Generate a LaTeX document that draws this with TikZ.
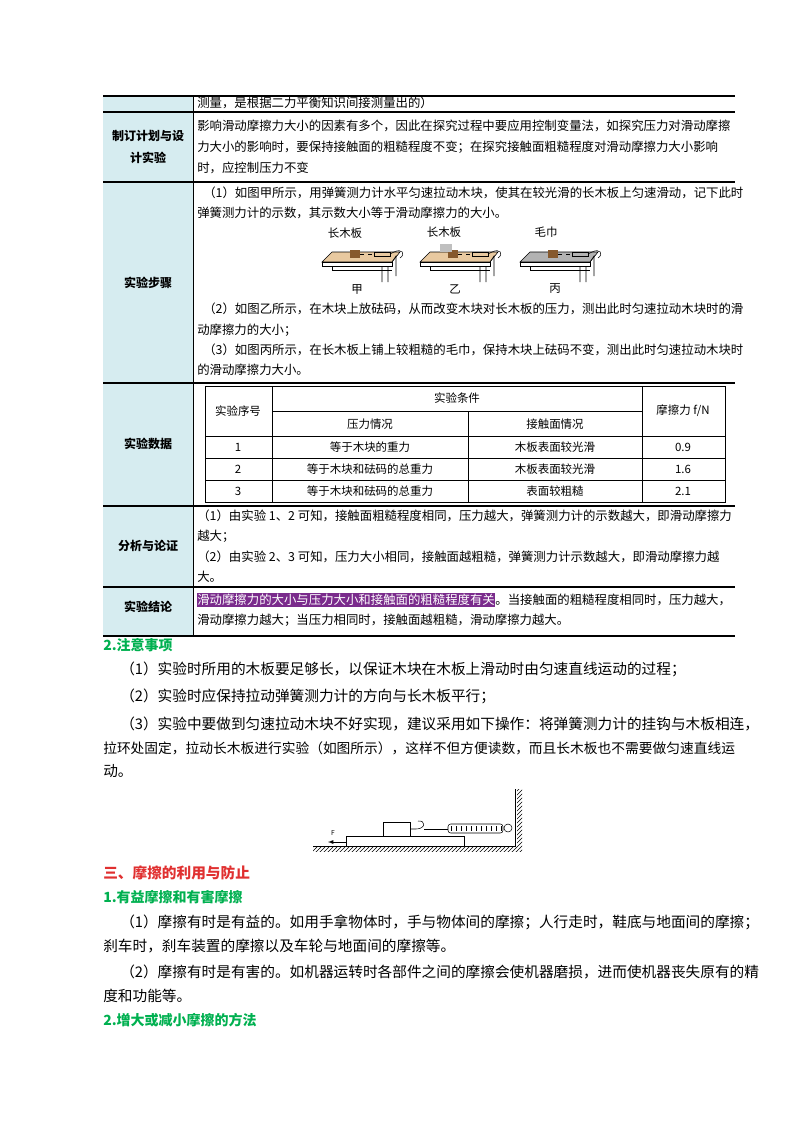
\documentclass[tikz,border=0pt]{standalone}
\usepackage{fontspec}
\setmainfont{Noto Sans CJK SC}
\usetikzlibrary{patterns}
\definecolor{leftfill}{HTML}{D6ECF0}
\definecolor{secgreen}{HTML}{00B050}
\definecolor{secred}{HTML}{E03030}
\definecolor{hlpurple}{HTML}{7A2B8C}
\definecolor{woodc}{HTML}{E8C9A0}
\tikzset{
  cell/.style={anchor=west,inner sep=0,font=\fontsize{9.3}{11}\selectfont},
  lab/.style={inner sep=0,font=\fontsize{9}{11}\selectfont\bfseries},
  tc/.style={inner sep=0,font=\fontsize{8.6}{10}\selectfont},
  body/.style={anchor=west,inner sep=0,font=\fontsize{11}{13}\selectfont},
  head/.style={anchor=west,inner sep=0,font=\fontsize{10.5}{13}\selectfont\bfseries},
  rule/.style={line width=0.8pt},
  thin/.style={line width=0.4pt},
}
\newcommand{\benchsketch}[3]{%
  \begin{scope}[shift={(#1,0)}]
    \fill[#2] (0,262) -- (10,252) -- (78,252) -- (70,262) -- cycle;
    \draw[thin] (0,262) -- (10,252) -- (78,252) -- (70,262) -- cycle;
    \draw[thin] (0,262) rectangle (70,266);
    \draw[thin] (60,266) -- (60,282) (66,266) -- (66,282) (70,262) -- (74,256) -- (74,276);
    \draw[thin] (10,266) -- (10,270) -- (70,270);
    \fill[brown!70!black] (28,250) rectangle (38,258);
    \draw[thin,dashed] (38,254) -- (52,254);
    \draw[thin] (52,252) rectangle (68,256);
    \draw[thin] (68,254) -- (72,252) .. controls (80,248) and (84,254) .. (78,258);
    \node[tc] at (35,289) {#3};
  \end{scope}}
\begin{document}
\begin{tikzpicture}[x=0.75pt,y=-0.75pt]
  \useasboundingbox (0,0) rectangle (800,1132);
  % left column
  \fill[leftfill] (103,96) rectangle (193,636);
  % row lines
  \foreach \y in {96,112,182,383,506,587,636}
    \draw[rule] (103,\y) -- (735,\y);
  \draw[thin] (193,96) -- (193,636);
  % row labels
  \node[lab] (plan1) at (148,136) {制订计划与设};
  \node[lab] (plan2) at (148,158) {计实验};
  \node[lab] (steps) at (148,283) {实验步骤};
  \node[lab] (data) at (148,444) {实验数据};
  \node[lab] (anal) at (148,546) {分析与论证};
  \node[lab] (concl) at (148,607) {实验结论};
  % row texts
  \node[cell] (r0) at (197,103) {测量，是根据二力平衡知识间接测量出的）};
  \node[cell] (r1a) at (197,126) {影响滑动摩擦力大小的因素有多个，因此在探究过程中要应用控制变量法，如探究压力对滑动摩擦};
  \node[cell] (r1b) at (197,147) {力大小的影响时，要保持接触面的粗糙程度不变；在探究接触面粗糙程度对滑动摩擦力大小影响};
  \node[cell] (r1c) at (197,168) {时，应控制压力不变};
  \node[cell] (s1) at (203,193) {（1）如图甲所示，用弹簧测力计水平匀速拉动木块，使其在较光滑的长木板上匀速滑动，记下此时};
  \node[cell] (s1b) at (197,213) {弹簧测力计的示数，其示数大小等于滑动摩擦力的大小。};
  \benchsketch{322}{woodc}{甲}
  \benchsketch{420}{woodc}{乙}
  \benchsketch{520}{gray!60}{丙}
  \node[tc] (lb1) at (345,233) {长木板};
  \node[tc] (lb2) at (444,232) {长木板};
  \node[tc] (lb3) at (546,232) {毛巾};
  \fill[gray!50] (440,244) rectangle (452,252);
  \node[cell] (s2) at (203,309) {（2）如图乙所示，在木块上放砝码，从而改变木块对长木板的压力，测出此时匀速拉动木块时的滑};
  \node[cell] (s2b) at (197,330) {动摩擦力的大小；};
  \node[cell] (s3) at (203,350) {（3）如图丙所示，在长木板上铺上较粗糙的毛巾，保持木块上砝码不变，测出此时匀速拉动木块时};
  \node[cell] (s3b) at (197,370) {的滑动摩擦力大小。};
  % data table
  \draw[thin] (205,386) rectangle (725,502);
  \foreach \y in {436,458,480} \draw[thin] (205,\y) -- (725,\y);
  \draw[thin] (272,411) -- (642,411);
  \foreach \x in {272,642} \draw[thin] (\x,386) -- (\x,502);
  \draw[thin] (468,411) -- (468,502);
  \node[tc] (h1) at (238,411) {实验序号};
  \node[tc] (h2) at (457,398) {实验条件};
  \node[tc] (h3) at (683,411) {摩擦力 f/N};
  \node[tc] (h4) at (370,424) {压力情况};
  \node[tc] (h5) at (555,424) {接触面情况};
  \foreach \n/\y/\p/\s/\f in {1/447/等于木块的重力/木板表面较光滑/0.9,
      2/469/等于木块和砝码的总重力/木板表面较光滑/1.6,
      3/491/等于木块和砝码的总重力/表面较粗糙/2.1}{
    \node[tc] at (238,\y) {\n};
    \node[tc] at (370,\y) {\p};
    \node[tc] at (555,\y) {\s};
    \node[tc] at (683,\y) {\f};
  }
  \node[cell] (a1) at (197,516) {（1）由实验 1、2 可知，接触面粗糙程度相同，压力越大，弹簧测力计的示数越大，即滑动摩擦力};
  \node[cell] (a1b) at (197,536) {越大；};
  \node[cell] (a2) at (197,557) {（2）由实验 2、3 可知，压力大小相同，接触面越粗糙，弹簧测力计示数越大，即滑动摩擦力越};
  \node[cell] (a2b) at (197,577) {大。};
  \node[cell,fill=hlpurple,text=white,inner ysep=1pt] (c1) at (197,600) {滑动摩擦力的大小与压力大小和接触面的粗糙程度有关};
  \node[cell,anchor=west] (c1b) at (c1.east) {。当接触面的粗糙程度相同时，压力越大，};
  \node[cell] (c2) at (197,620) {滑动摩擦力越大；当压力相同时，接触面越粗糙，滑动摩擦力越大。};
  % notes
  \node[head,text=secgreen] (n0) at (103,645) {2.注意事项};
  \node[body] (n1) at (120,669) {（1）实验时所用的木板要足够长，以保证木块在木板上滑动时由匀速直线运动的过程；};
  \node[body] (n2) at (120,696) {（2）实验时应保持拉动弹簧测力计的方向与长木板平行；};
  \node[body] (n3) at (120,724) {（3）实验中要做到匀速拉动木块不好实现，建议采用如下操作：将弹簧测力计的挂钩与木板相连，};
  \node[body,font=\fontsize{10.3}{13}\selectfont] (n3b) at (103,748) {拉环处固定，拉动长木板进行实验（如图所示），这样不但方便读数，而且长木板也不需要做匀速直线运};
  \node[body] (n3c) at (103,771) {动。};
  % spring figure
  \fill[pattern=north east lines] (313,846) rectangle (517,851);
  \fill[pattern=north east lines] (517,789) rectangle (522,851);
  \draw[thin] (313,846) -- (515,846) -- (515,789);
  \draw[thin] (346,836) rectangle (464,846);
  \draw[thin] (383,822) rectangle (410,836);
  \draw[thin] (410,829) -- (416,829) .. controls (426,829) and (426,820) .. (418,821);
  \draw[thin] (424,829) -- (448,829);
  \draw[thin,rounded corners=2pt] (448,824) rectangle (503,833);
  \foreach \i in {0,...,10} \draw[very thin] (451+\i*5,826) -- (451+\i*5,831);
  \draw[thin] (508,828) circle (4);
  \draw[thin,-latex] (346,842) -- (328,842);
  \node[inner sep=0,font=\tiny] (F) at (333,833) {F};
  % section three
  \node[head,text=secred,font=\fontsize{11}{13}\selectfont\bfseries] (t3) at (103,873) {三、摩擦的利用与防止};
  \node[head,text=secgreen] (t31) at (103,897) {1.有益摩擦和有害摩擦};
  \node[body] (m1) at (120,922) {（1）摩擦有时是有益的。如用手拿物体时，手与物体间的摩擦；人行走时，鞋底与地面间的摩擦；};
  \node[body] (m1b) at (103,946) {刹车时，刹车装置的摩擦以及车轮与地面间的摩擦等。};
  \node[body] (m2) at (120,972) {（2）摩擦有时是有害的。如机器运转时各部件之间的摩擦会使机器磨损，进而使机器丧失原有的精};
  \node[body] (m2b) at (103,996) {度和功能等。};
  \node[head,text=secgreen] (t32) at (103,1020) {2.增大或减小摩擦的方法};
\end{tikzpicture}
\end{document}
